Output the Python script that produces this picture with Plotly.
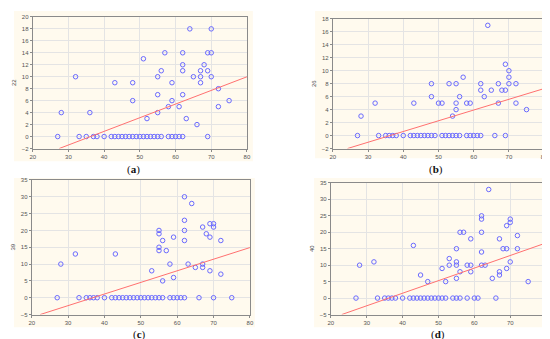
import plotly.graph_objects as go

# ---------------- data ----------------
a_zero_x = [27, 33, 35, 37, 38, 40, 42, 43, 44, 45, 46, 47, 48, 49, 50, 51, 52, 53, 54, 55, 56, 58, 59, 60, 61, 62, 69]
a_x = [28, 32, 36, 43, 48, 48, 51, 52, 55, 55, 55, 56, 57, 58, 59, 59, 61, 62, 62, 62, 62, 63, 64, 65, 66, 67, 67, 67, 68, 69, 69, 70, 70, 70, 72, 72, 75]
a_y = [4, 10, 4, 9, 9, 6, 13, 3, 10, 7, 4, 11, 14, 5, 9, 6, 5, 14, 12, 11, 7, 3, 18, 10, 2, 11, 10, 9, 12, 14, 11, 18, 14, 10, 8, 5, 6]
a_fit = (-8.25, 0.228)

b_zero_x = [27, 33, 35, 36, 37, 38, 40, 42, 43, 44, 45, 46, 47, 48, 49, 51, 52, 53, 54, 55, 56, 58, 59, 60, 61, 62, 66, 69]
b_x = [28, 32, 43, 48, 48, 50, 51, 53, 54, 55, 55, 55, 56, 57, 58, 59, 62, 62, 63, 64, 65, 67, 67, 68, 69, 69, 70, 70, 70, 72, 72, 75]
b_y = [3, 5, 5, 8, 6, 5, 5, 8, 3, 8, 5, 4, 6, 9, 5, 5, 8, 7, 6, 17, 7, 8, 5, 7, 11, 7, 10, 9, 8, 8, 5, 4]
b_fit = (-6.0, 0.1656)

c_zero_x = [27, 33, 35, 36, 37, 38, 40, 42, 43, 44, 45, 46, 47, 48, 49, 50, 51, 52, 53, 54, 55, 56, 58, 59, 60, 61, 62, 66, 70, 75]
c_x = [28, 32, 43, 53, 55, 55, 55, 55, 56, 56, 57, 58, 59, 59, 62, 62, 62, 62, 63, 64, 65, 67, 67, 67, 68, 69, 69, 69, 70, 70, 72, 72]
c_y = [10, 13, 13, 8, 20, 19, 15, 14, 17, 5, 14, 10, 18, 6, 30, 23, 20, 17, 10, 28, 9, 21, 10, 9, 19, 22, 18, 8, 22, 21, 17, 7]
c_fit = (-12.7, 0.345)

d_zero_x = [27, 33, 35, 36, 37, 38, 40, 42, 43, 44, 45, 46, 47, 48, 49, 50, 51, 52, 54, 55, 56, 58, 60, 61, 66]
d_x = [28, 32, 43, 45, 47, 51, 52, 53, 53, 55, 55, 55, 55, 56, 56, 57, 58, 59, 59, 59, 62, 62, 62, 62, 62, 63, 64, 65, 67, 67, 67, 68, 69, 69, 69, 70, 70, 70, 72, 72, 75]
d_y = [10, 11, 16, 7, 5, 9, 5, 12, 10, 15, 11, 10, 6, 20, 8, 20, 10, 18, 10, 8, 25, 24, 20, 14, 10, 10, 33, 6, 18, 8, 7, 15, 22, 15, 9, 24, 23, 11, 19, 15, 5]
d_fit = (-13.8, 0.382)

panels = [
    dict(zx=a_zero_x, x=a_x, y=a_y, fit=a_fit, title="22", yr=[-2, 20], dt=2, label="a",
         dom_x=[22/550, 239/550], dom_y=[1-140/339, 1-6/339], bg=[3, 245, 0, 153], lab=(124, 161)),
    dict(zx=b_zero_x, x=b_x, y=b_y, fit=b_fit, title="26", yr=[-2, 18], dt=2, label="b",
         dom_x=[326/550, 540/550], dom_y=[1-140/339, 1-8/339], bg=[308, 545, 0, 150], lab=(430, 161)),
    dict(zx=c_zero_x, x=c_x, y=c_y, fit=c_fit, title="39", yr=[-5, 35], dt=5, label="c",
         dom_x=[21/550, 242/550], dom_y=[1-309/339, 1-172/339], bg=[3, 247, 170, 322], lab=(130, 329.5)),
    dict(zx=d_zero_x, x=d_x, y=d_y, fit=d_fit, title="40", yr=[-5, 35], dt=5, label="d",
         dom_x=[324/550, 542/550], dom_y=[1-309/339, 1-175/339], bg=[307, 547, 170, 322], lab=(432, 329.5)),
]

fig = go.Figure()
shapes = []
annotations = []
W, H = 550, 339

for i, p in enumerate(panels):
    n = "" if i == 0 else str(i + 1)
    xa, ya = "x" + n, "y" + n
    xs = list(p["zx"]) + list(p["x"])
    ys = [0] * len(p["zx"]) + list(p["y"])
    fig.add_trace(go.Scatter(
        x=xs, y=ys, mode="markers", xaxis=xa, yaxis=ya, showlegend=False,
        marker=dict(symbol="circle-open", size=4.5, color="#6a6aff", line=dict(width=1))))
    b0, b1 = p["fit"]
    x0 = (p["yr"][0] - b0) / b1
    lx = [x0, 80]
    fig.add_trace(go.Scatter(
        x=lx, y=[b0 + b1 * v for v in lx], mode="lines", xaxis=xa, yaxis=ya, showlegend=False,
        line=dict(color="#ff7070", width=1)))
    common = dict(showline=True, linecolor="#8a8a8a", linewidth=1, mirror=True,
                  gridcolor="#e4e4e4", gridwidth=1, zeroline=False, ticks="outside",
                  ticklen=2, tickcolor="#8a8a8a",
                  tickfont=dict(size=6, color="#555555", family="Liberation Sans"))
    fig.layout["xaxis" + n] = dict(domain=p["dom_x"], range=[20, 80], dtick=10, tick0=20,
                                   anchor=ya, **common)
    fig.layout["yaxis" + n] = dict(domain=p["dom_y"], range=p["yr"], dtick=p["dt"], tick0=p["yr"][0],
                                   anchor=xa, title=dict(text=p["title"], standoff=4,
                                   font=dict(size=6, color="#444444", family="Liberation Sans")),
                                   **common)
    x0p, x1p, y0p, y1p = p["bg"]
    shapes.append(dict(type="rect", xref="paper", yref="paper", layer="below",
                       x0=x0p / W, x1=x1p / W, y0=1 - y1p / H, y1=1 - y0p / H,
                       fillcolor="#fffaee", line=dict(width=0)))
    lxp, lyp = p["lab"]
    annotations.append(dict(xref="paper", yref="paper", x=lxp / W, y=1 - lyp / H,
                            text="(<b>%s</b>)" % p["label"], showarrow=False,
                            font=dict(size=11, family="Liberation Serif", color="#111111"),
                            xanchor="center", yanchor="middle", borderpad=0))

fig.update_layout(width=W, height=H, margin=dict(l=0, r=0, t=0, b=0),
                  paper_bgcolor="white", plot_bgcolor="white",
                  shapes=shapes, annotations=annotations)
fig.write_html("out.html")
